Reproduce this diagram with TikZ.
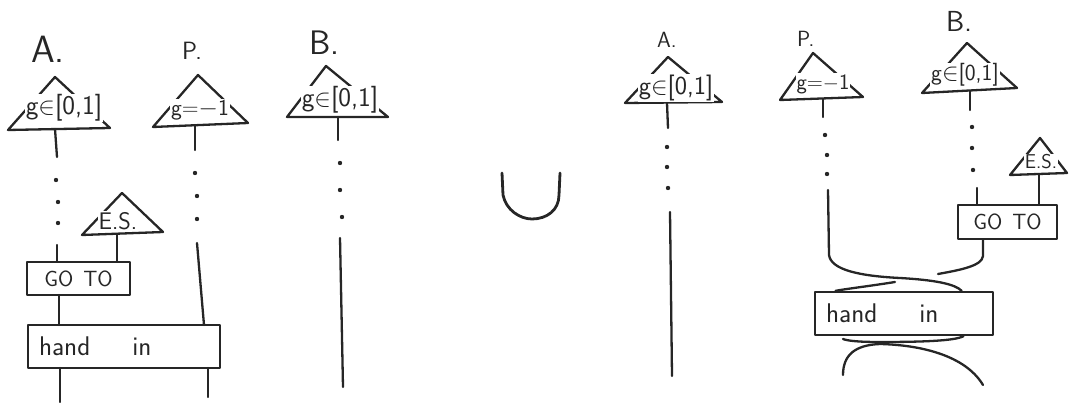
\documentclass[tikz,border=0pt]{standalone}
\usetikzlibrary{calc}
\begin{document}
\begin{tikzpicture}[x=1pt,y=-1pt,
  ink/.style={draw=black!85, line width=2.3pt, line cap=round, line join=round},
  lab/.style={inner sep=0pt, text=black!85, font=\sffamily},
  ttext/.style={fill=white, inner sep=1pt, text=black!85, font=\sffamily\fontsize{24}{28}\selectfont},
  boxnode/.style={ink, fill=white, text=black!85, inner sep=0pt, font=\sffamily\fontsize{22}{26}\selectfont},
  dotm/.style={fill=black!85, circle, inner sep=0pt, minimum size=4.4pt}]
\useasboundingbox (0,0) rectangle (1070,403);

% ================= LEFT =================
% labels
\node[lab, anchor=base west, font=\sffamily\fontsize{38}{40}\selectfont] (lA) at (31,63) {A.};
\node[lab, anchor=base west, font=\sffamily\fontsize{25}{28}\selectfont] (lP) at (182,60) {P.};
\node[lab, anchor=base west, font=\sffamily\fontsize{34}{38}\selectfont] (lB) at (309,55) {B.};
% triangles
\draw[ink] (55,77) -- (8,130) -- (110,128) -- cycle;
\node[ttext, font=\sffamily\fontsize{27}{30}\selectfont] (tA) at (64,108) {g$\in$[0,1]};
\draw[ink] (198,75) -- (153,127) -- (248,123) -- cycle;
\node[ttext, font=\sffamily\fontsize{23}{26}\selectfont] (tP) at (200,110) {g=$-$1};
\draw[ink] (326,66) -- (287,117) -- (388,117) -- cycle;
\node[ttext, font=\sffamily\fontsize{27}{30}\selectfont] (tB) at (340,100) {g$\in$[0,1]};
\draw[ink] (122,193) -- (82,235) -- (163,232) -- cycle;
\node[ttext, font=\sffamily\fontsize{24}{28}\selectfont] (tE) at (118,221) {E.S.};
\coordinate (Ab) at (55,129);
\coordinate (Pb) at (195,125);
\coordinate (Bb) at (338,117);
\coordinate (Eb) at (117,234);
% boxes
\node[boxnode, minimum width=103pt, minimum height=33pt] (goL) at (78.5,278.5) {GO\hspace{10pt}TO};
\node[boxnode, minimum height=43pt, text width=170pt, align=left, inner xsep=11pt, font=\sffamily\fontsize{27}{30}\selectfont] (hL) at (124,346.5) {hand\hspace{42pt}in};
% A strand
\draw[ink] (Ab) -- (57,157);
\node[dotm] (a1) at (56,180) {};
\node[dotm] (a2) at (58,202) {};
\node[dotm] (a3) at (58,223) {};
\coordinate (a4) at (57,245);
\draw[ink] (a4) -- (a4 |- goL.north);
\draw[ink] (Eb) -- (Eb |- goL.north);
\draw[ink] (59,295) -- (59,325);
\draw[ink] (60,368) -- (60,402);
% P strand
\draw[ink] (Pb) -- (195,150);
\node[dotm] (p1) at (195,173) {};
\node[dotm] (p2) at (197,196) {};
\node[dotm] (p3) at (197,219) {};
\coordinate (p4) at (197,243);
\draw[ink] (p4) -- (204,325);
\draw[ink] (208,368) -- (208,397);
% B strand
\draw[ink] (Bb) -- (338,140);
\node[dotm] (b1) at (340,163) {};
\node[dotm] (b2) at (340,190) {};
\node[dotm] (b3) at (342,217) {};
\coordinate (b4) at (340,238);
\coordinate (b5) at (343,387);
\draw[ink] (b4) -- (b5);

% ================= UNION =================
\coordinate (u1) at (502,173);
\coordinate (u2) at (560,173);
\draw[ink, line width=2.8pt] (u1) -- (503,195) .. controls (506,210) and (520,219) .. (532,219) .. controls (547,219) and (559,210) .. (559,195) -- (u2);

% ================= RIGHT =================
\node[lab, anchor=base west, font=\sffamily\fontsize{22}{26}\selectfont] (rlA) at (657,48) {A.};
\node[lab, anchor=base west, font=\sffamily\fontsize{22}{26}\selectfont] (rlP) at (797,47) {P.};
\node[lab, anchor=base west, font=\sffamily\fontsize{29}{32}\selectfont] (rlB) at (946,32) {B.};
\draw[ink] (668,57) -- (625,103) -- (722,102) -- cycle;
\node[ttext, font=\sffamily\fontsize{26}{30}\selectfont] (rtA) at (676,88) {g$\in$[0,1]};
\draw[ink] (813,53) -- (780,100) -- (863,97) -- cycle;
\node[ttext, font=\sffamily\fontsize{22}{26}\selectfont] (rtP) at (823,84) {g=$-$1};
\draw[ink] (967,43) -- (922,93) -- (1017,88) -- cycle;
\node[ttext, font=\sffamily\fontsize{23}{26}\selectfont] (rtB) at (965,75) {g$\in$[0,1]};
\draw[ink] (1040,138) -- (1010,175) -- (1067,173) -- cycle;
\node[ttext, font=\sffamily\fontsize{20}{24}\selectfont] (rtE) at (1041,162) {E.S.};
\coordinate (rAb) at (667,103);
\coordinate (rPb) at (823,99);
\coordinate (rBb) at (970,91);
\coordinate (rEb) at (1039,174);
\node[boxnode, minimum width=99pt, minimum height=34pt] (goR) at (1007.5,222) {GO\hspace{10pt}TO};
\node[boxnode, minimum height=43pt, text width=156pt, align=left, inner xsep=11pt, font=\sffamily\fontsize{27}{30}\selectfont] (hR) at (904,313.5) {hand\hspace{42pt}in};
% A strand
\draw[ink] (rAb) -- (668,128);
\node[dotm] (ra1) at (667,147) {};
\node[dotm] (ra2) at (667,167) {};
\node[dotm] (ra3) at (668,188) {};
\coordinate (ra4) at (670,212);
\coordinate (ra5) at (672,376);
\draw[ink] (ra4) -- (ra5);
% P strand
\draw[ink] (rPb) -- (823,117);
\node[dotm] (rp1) at (825,135) {};
\node[dotm] (rp2) at (827,155) {};
\node[dotm] (rp3) at (827,174) {};
\coordinate (rp4) at (828,190);
\coordinate (hRtr) at ($(hR.north west)!0.82!(hR.north east)$);
\draw[ink] (rp4) -- (829,255) .. controls (831,270) and (860,276) .. (900,278) .. controls (935,280) and (955,284) .. (hRtr);
% B strand
\draw[ink] (rBb) -- (970,110);
\node[dotm] (rb1) at (972,127) {};
\node[dotm] (rb2) at (972,148) {};
\node[dotm] (rb3) at (973,170) {};
\coordinate (rb4) at (977,188);
\draw[ink] (rb4) -- (rb4 |- goR.north);
\draw[ink] (rEb) -- (rEb |- goR.north);
% GO TO strand crossing under P strand
\coordinate (goRb) at (983,0);
\coordinate (hRtl) at ($(hR.north west)!0.12!(hR.north east)$);
\draw[ink] (goRb |- goR.south) -- (983,256) .. controls (982,266) and (960,270) .. (938,274);
\draw[ink] (895,282) .. controls (870,286) and (845,289) .. (hRtl);
% strands below hand in
\coordinate (hRbr) at ($(hR.south west)!0.83!(hR.south east)$);
\draw[ink] (hRbr) .. controls (955,341) and (920,342) .. (880,342) .. controls (860,342) and (848,341) .. (843,339);
\coordinate (q1) at (843,375);
\coordinate (q2) at (983,385);
\draw[ink] (q1) .. controls (843,355) and (855,345) .. (880,344) .. controls (920,345) and (965,355) .. (q2);
\end{tikzpicture}
\end{document}
